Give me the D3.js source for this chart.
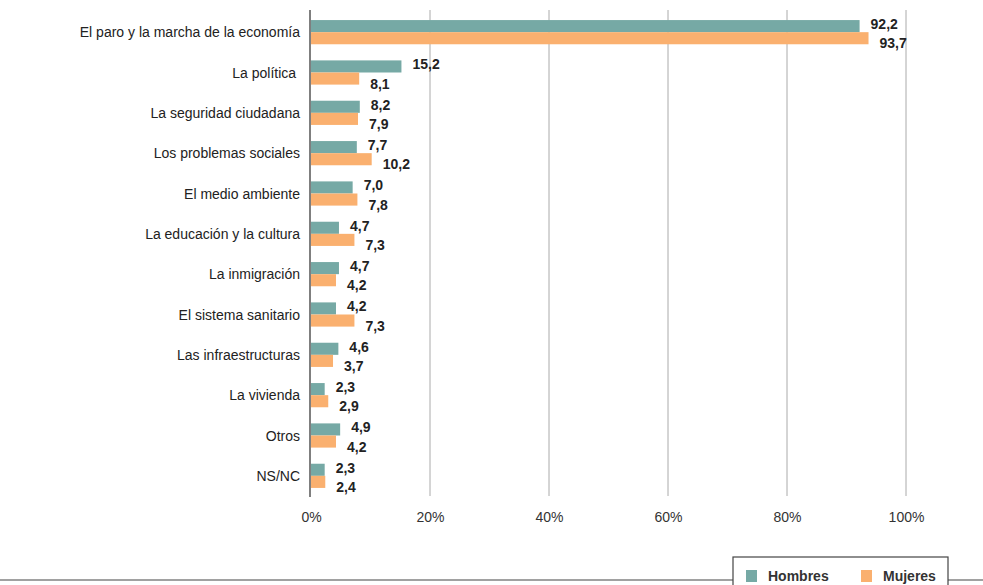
<!DOCTYPE html>
<html>
<head>
<meta charset="utf-8">
<script src="https://cdn.jsdelivr.net/npm/d3@7"></script>
<style>
  body { margin: 0; background: #fff; }
  svg { font-family: "Liberation Sans", Arial, sans-serif; }
  .cat text { white-space: pre; }
</style>
</head>
<body>
<svg id="chart"></svg>
<script>
const categories = ['El paro y la marcha de la economía', 'La política ', 'La seguridad ciudadana',
    'Los problemas sociales', 'El medio ambiente', 'La educación y la cultura', 'La inmigración',
    'El sistema sanitario', 'Las infraestructuras', 'La vivienda', 'Otros', 'NS/NC'];
const hombres = [92.2, 15.2, 8.2, 7.7, 7.0, 4.7, 4.7, 4.2, 4.6, 2.3, 4.9, 2.3];
const mujeres = [93.7, 8.1, 7.9, 10.2, 7.8, 7.3, 4.2, 7.3, 3.7, 2.9, 4.2, 2.4];
const xTicks = [0, 20, 40, 60, 80, 100];
const seriesNames = ['Hombres', 'Mujeres'];
const colors = ['#76a9a5', '#fab06f'];

const W = 983, H = 585;
const svg = d3.select('#chart').attr('width', W).attr('height', H);

const xScale = d3.scaleLinear().domain([0, 100]).range([311, 906]);
const yScale = d3.scaleBand().domain(categories).range([12, 496])
    .paddingInner(0.4).paddingOuter(0.2);
const bh = yScale.bandwidth() / 2;

// gridlines
svg.append('g').selectAll('line').data(xTicks.slice(1)).join('line')
    .attr('x1', d => xScale(d)).attr('x2', d => xScale(d))
    .attr('y1', 10).attr('y2', 496)
    .attr('stroke', '#aaa').attr('stroke-width', 1);

// x axis tick labels
const xAxis = d3.axisBottom(xScale).tickValues(xTicks).tickFormat(d => d + '%').tickSize(0).tickPadding(0);
const xAxisG = svg.append('g').attr('transform', 'translate(0, 512)').call(xAxis);
xAxisG.select('.domain').remove();
xAxisG.selectAll('text').attr('font-size', 14).attr('fill', '#333')
    .attr('font-family', '"Liberation Sans", Arial, sans-serif');

// bars
const rows = categories.map((c, i) => ({ cat: c, vals: [hombres[i], mujeres[i]] }));
const rowG = svg.append('g').selectAll('g').data(rows).join('g')
    .attr('transform', d => `translate(0, ${yScale(d.cat)})`);

rowG.selectAll('rect').data(d => d.vals).join('rect')
    .attr('x', xScale(0))
    .attr('y', (d, i) => i * bh)
    .attr('width', d => xScale(d) - xScale(0))
    .attr('height', bh)
    .attr('fill', (d, i) => colors[i]);

rowG.selectAll('text').data(d => d.vals).join('text')
    .attr('x', d => xScale(d) + 11)
    .attr('y', (d, i) => i === 0 ? bh / 2 - 2 : bh * 1.5 + 5)
    .attr('dy', '0.36em')
    .attr('font-size', 14).attr('font-weight', 'bold').attr('fill', '#222')
    .text(d => d3.format('.1f')(d).replace('.', ','));

// category labels
svg.append('g').attr('class', 'cat').selectAll('text').data(categories).join('text')
    .attr('x', 300)
    .attr('y', d => yScale(d) + yScale.bandwidth() / 2)
    .attr('dy', '0.36em')
    .attr('text-anchor', 'end')
    .attr('font-size', 14).attr('fill', '#222')
    .text(d => d);

// y axis line
svg.append('line').attr('x1', 310).attr('x2', 310).attr('y1', 10).attr('y2', 497)
    .attr('stroke', '#555').attr('stroke-width', 1.5);

// bottom rule and legend
svg.append('line').attr('x1', 0).attr('x2', W).attr('y1', 580).attr('y2', 580)
    .attr('stroke', '#444').attr('stroke-width', 1.2);
const leg = svg.append('g');
leg.append('rect').attr('x', 733).attr('y', 557).attr('width', 215).attr('height', 40)
    .attr('fill', '#fff').attr('stroke', '#444').attr('stroke-width', 1.2);
const legX = [746, 861];
seriesNames.forEach((s, i) => {
    leg.append('rect').attr('x', legX[i]).attr('y', 570).attr('width', 11).attr('height', 12)
        .attr('fill', colors[i]);
    leg.append('text').attr('x', legX[i] + 22).attr('y', 576).attr('dy', '0.36em')
        .attr('font-size', 14).attr('font-weight', 'bold').attr('fill', '#333').text(s);
});
</script>
</body>
</html>
